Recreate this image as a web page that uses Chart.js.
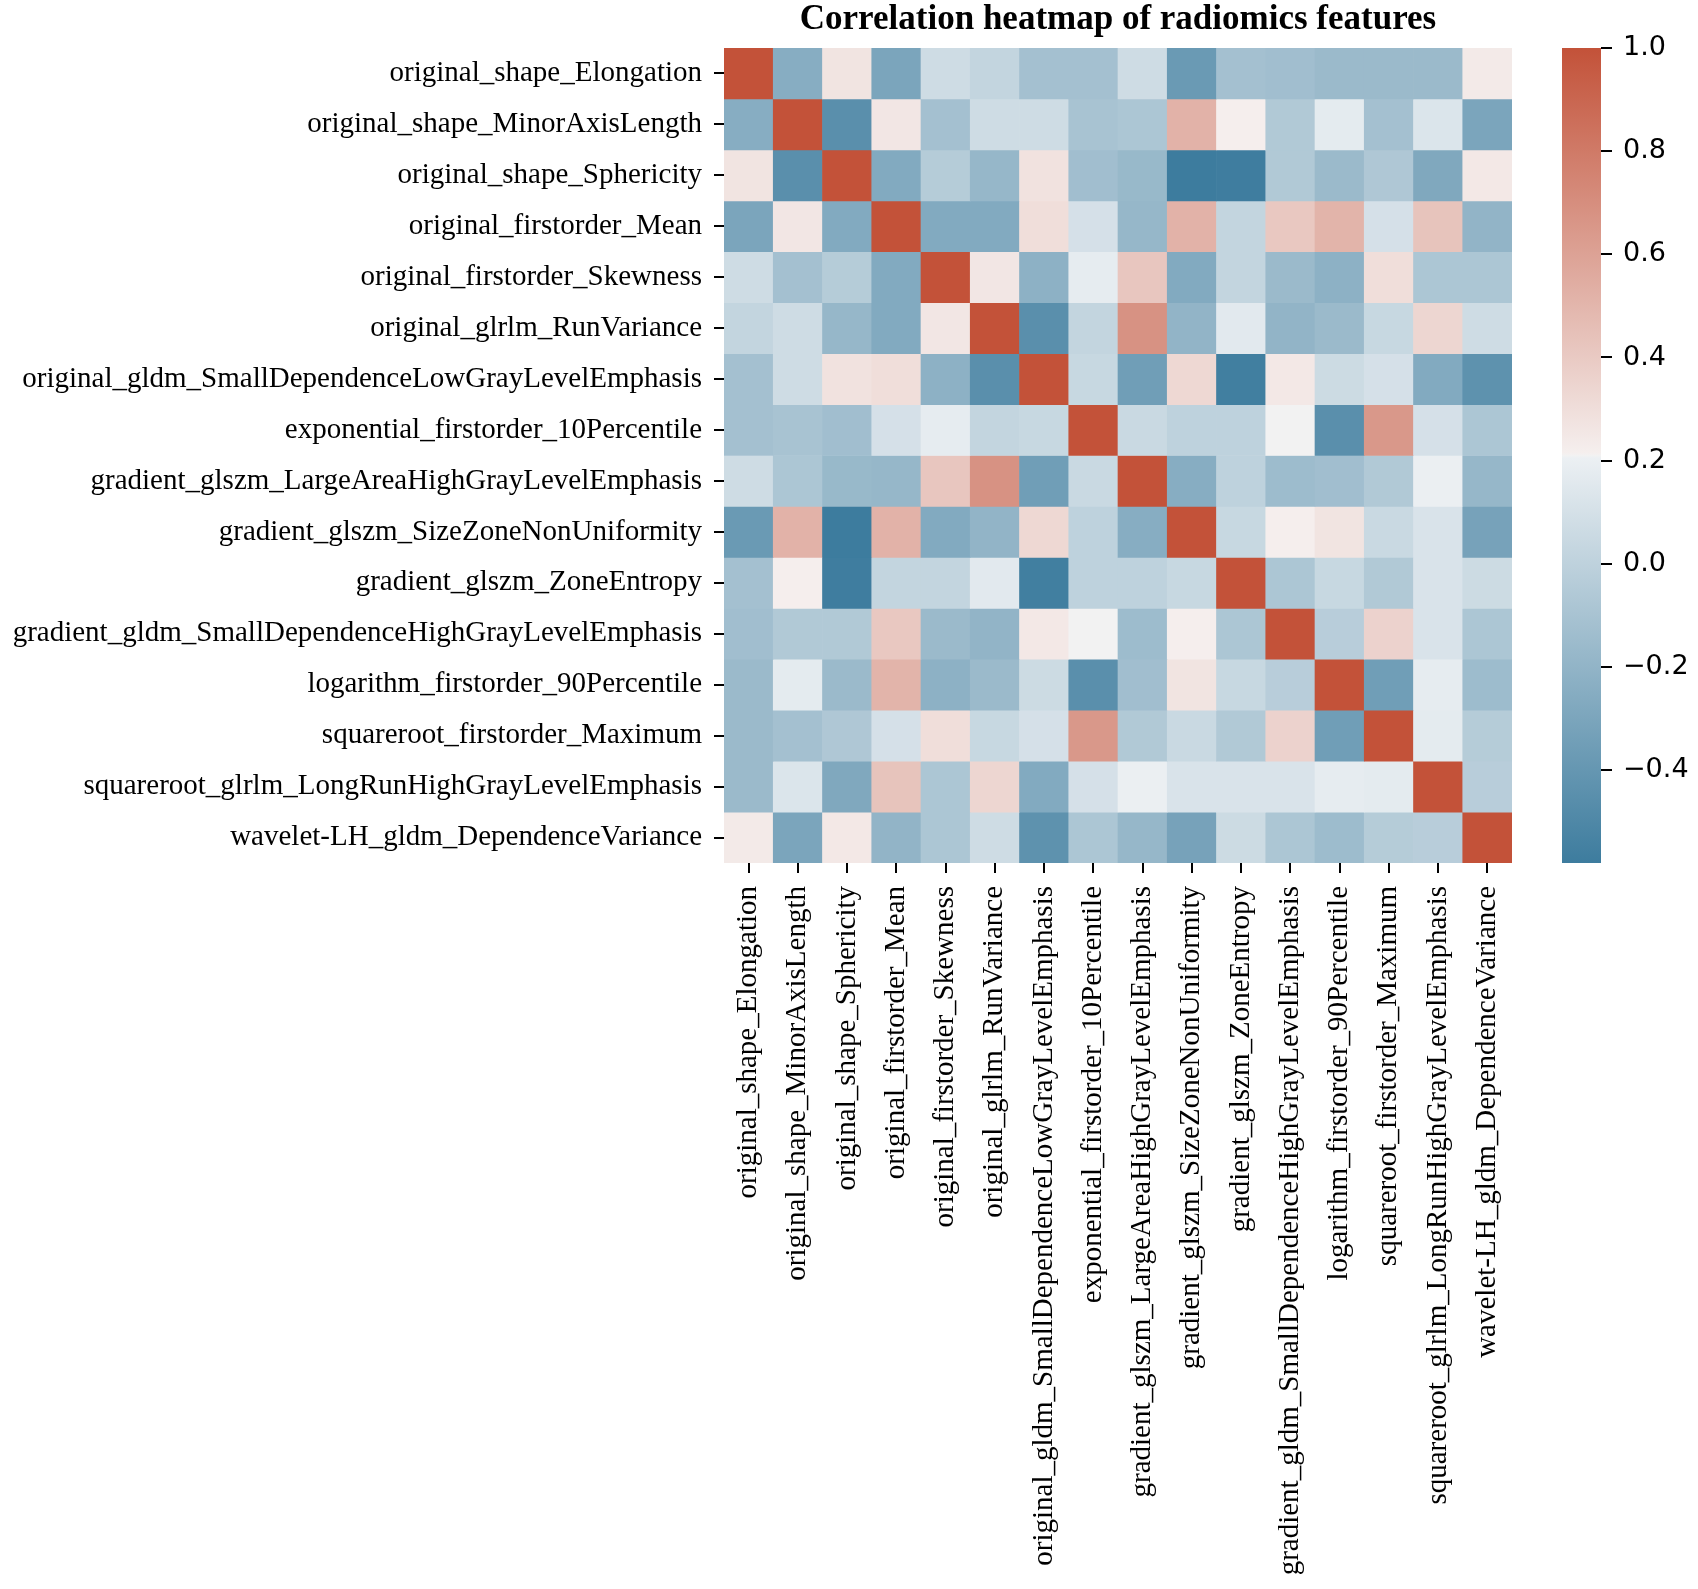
<!DOCTYPE html>
<html lang="en">
<head>
<meta charset="UTF-8">
<title>Correlation heatmap of radiomics features</title>
<script src="https://cdn.jsdelivr.net/npm/chart.js"></script>
<style>
  body { margin: 0; background: #fff; }
  #wrap { position: relative; width: 1698px; height: 1589px; }
  #wrap canvas { position: absolute; left: 0; top: 0; }
</style>
</head>
<body>
<div id="wrap">
  <canvas id="heatmap" width="1698" height="1589"></canvas>
  <canvas id="colorbar" width="1698" height="1589"></canvas>
</div>

<script>
// Feature names (same order on both axes)
const features = [
    'original_shape_Elongation',
    'original_shape_MinorAxisLength',
    'original_shape_Sphericity',
    'original_firstorder_Mean',
    'original_firstorder_Skewness',
    'original_glrlm_RunVariance',
    'original_gldm_SmallDependenceLowGrayLevelEmphasis',
    'exponential_firstorder_10Percentile',
    'gradient_glszm_LargeAreaHighGrayLevelEmphasis',
    'gradient_glszm_SizeZoneNonUniformity',
    'gradient_glszm_ZoneEntropy',
    'gradient_gldm_SmallDependenceHighGrayLevelEmphasis',
    'logarithm_firstorder_90Percentile',
    'squareroot_firstorder_Maximum',
    'squareroot_glrlm_LongRunHighGrayLevelEmphasis',
    'wavelet-LH_gldm_DependenceVariance'
];

// Correlation values, one row per feature
const corr = [
    [ 1.00, -0.25,  0.27, -0.30,  0.07,  0.02, -0.12, -0.12,  0.07, -0.38, -0.12, -0.13, -0.16, -0.16, -0.16,  0.24],
    [-0.25,  1.00, -0.45,  0.26, -0.12,  0.07,  0.07, -0.10, -0.08,  0.52,  0.22, -0.06,  0.17, -0.12,  0.13, -0.30],
    [ 0.27, -0.45,  1.00, -0.27, -0.04, -0.18,  0.28, -0.13, -0.17, -0.58, -0.57, -0.06, -0.16, -0.07, -0.28,  0.25],
    [-0.30,  0.26, -0.27,  1.00, -0.27, -0.27,  0.30,  0.10, -0.18,  0.52,  0.02,  0.41,  0.51,  0.10,  0.43, -0.20],
    [ 0.07, -0.12, -0.04, -0.27,  1.00,  0.26, -0.22,  0.18,  0.42, -0.27,  0.02, -0.16, -0.22,  0.30, -0.08, -0.08],
    [ 0.02,  0.07, -0.18, -0.27,  0.26,  1.00, -0.45,  0.02,  0.68, -0.20,  0.16, -0.20, -0.16,  0.04,  0.34,  0.07],
    [-0.12,  0.07,  0.28,  0.30, -0.22, -0.45,  1.00,  0.04, -0.35,  0.33, -0.56,  0.25,  0.06,  0.10, -0.27, -0.43],
    [-0.12, -0.10, -0.13,  0.10,  0.18,  0.02,  0.04,  1.00,  0.05,  0.00,  0.00,  0.21, -0.45,  0.65,  0.10, -0.08],
    [ 0.07, -0.08, -0.17, -0.18,  0.42,  0.68, -0.35,  0.05,  1.00, -0.25,  0.00, -0.15, -0.13, -0.06,  0.20, -0.18],
    [-0.38,  0.52, -0.58,  0.52, -0.27, -0.20,  0.33,  0.00, -0.25,  1.00,  0.04,  0.22,  0.27,  0.05,  0.12, -0.32],
    [-0.12,  0.22, -0.57,  0.02,  0.02,  0.16, -0.56,  0.00,  0.00,  0.04,  1.00, -0.08,  0.04, -0.06,  0.12,  0.06],
    [-0.13, -0.06, -0.06,  0.41, -0.16, -0.20,  0.25,  0.21, -0.15,  0.22, -0.08,  1.00, -0.03,  0.36,  0.12, -0.08],
    [-0.16,  0.17, -0.16,  0.51, -0.22, -0.16,  0.06, -0.45, -0.13,  0.27,  0.04, -0.03,  1.00, -0.35,  0.18, -0.15],
    [-0.16, -0.12, -0.07,  0.10,  0.30,  0.04,  0.10,  0.65, -0.06,  0.05, -0.06,  0.36, -0.35,  1.00,  0.17, -0.04],
    [-0.16,  0.13, -0.28,  0.43, -0.08,  0.34, -0.27,  0.10,  0.20,  0.12,  0.12,  0.12,  0.18,  0.17,  1.00, -0.03],
    [ 0.24, -0.30,  0.25, -0.20, -0.08,  0.07, -0.43, -0.08, -0.18, -0.32,  0.06, -0.08, -0.15, -0.04, -0.03,  1.00]
];

// Colorbar tick labels
const colorbarTicks = [-0.4, -0.2, 0.0, 0.2, 0.4, 0.6, 0.8, 1.0];

// colour range follows the data, like seaborn does
const vmin = Math.min(...corr.flat());
const vmax = Math.max(...corr.flat());

// blue -> light grey -> red diverging palette
const cmapStops = [
    [0.000, [61, 124, 158]],
    [0.497, [236, 240, 243]],
    [0.500, [242, 242, 242]],
    [0.503, [245, 239, 238]],
    [1.000, [195, 82, 57]]
];

function cmap(t) {
    t = Math.min(1, Math.max(0, t));
    for (let i = 1; i < cmapStops.length; i++) {
        const [t0, c0] = cmapStops[i - 1];
        const [t1, c1] = cmapStops[i];
        if (t <= t1) {
            const f = (t - t0) / (t1 - t0);
            return 'rgb(' + c0.map((v, k) => Math.round(v + (c1[k] - v) * f)).join(',') + ')';
        }
    }
    return 'rgb(' + cmapStops[cmapStops.length - 1][1].join(',') + ')';
}

function colorFor(v) {
    return cmap((v - vmin) / (vmax - vmin));
}

const serif = "'Liberation Serif', 'Times New Roman', serif";
Chart.defaults.color = '#000';

// Heatmap: one dataset per row, floating bars spanning that row
const rowSets = corr.map((row, r) => ({
    label: features[r],
    data: row.map(() => [r, r + 1]),
    backgroundColor: row.map(colorFor),
    borderWidth: 0,
    grouped: false,
    barPercentage: 1,
    categoryPercentage: 1
}));

const tickGrid = {
    display: true,
    drawOnChartArea: false,
    drawTicks: true,
    tickLength: 10,
    color: '#000',
    lineWidth: 2
};

new Chart(document.getElementById('heatmap'), {
    type: 'bar',
    data: { labels: features, datasets: rowSets },
    options: {
        responsive: false,
        animation: false,
        layout: { padding: { left: 0, right: 186, top: 0, bottom: 0 } },
        plugins: {
            legend: { display: false },
            tooltip: { enabled: false },
            title: {
                display: true,
                text: 'Correlation heatmap of radiomics features',
                fullSize: false,
                color: '#000',
                font: { family: serif, size: 35, weight: 'bold', lineHeight: 1 },
                padding: { top: 2, bottom: 11 }
            }
        },
        scales: {
            x: {
                offset: true,
                grid: Object.assign({}, tickGrid, { offset: false }),
                border: { display: false },
                ticks: {
                    autoSkip: false,
                    maxRotation: 90,
                    minRotation: 90,
                    padding: 13,
                    font: { family: serif, size: 29 }
                },
                afterFit(scale) {
                    scale.height = 726;
                    scale.paddingLeft = 0;
                    scale.paddingRight = 0;
                }
            },
            y: {
                min: 0,
                max: features.length,
                reverse: true,
                grid: tickGrid,
                border: { display: false },
                afterBuildTicks(scale) {
                    scale.ticks = features.map((_, i) => ({ value: i + 0.5 }));
                },
                ticks: {
                    padding: 12,
                    font: { family: serif, size: 29 },
                    callback: (v, i) => features[i]
                },
                afterFit(scale) {
                    scale.width = 724;
                    scale.paddingTop = 0;
                    scale.paddingBottom = 0;
                }
            }
        }
    }
});

// Colorbar: a single floating bar from vmin to vmax with a gradient fill
function colorbarFill(ctx) {
    const chart = ctx.chart;
    if (!chart.chartArea) return null;
    const y = chart.scales.y;
    const g = chart.ctx.createLinearGradient(0, y.getPixelForValue(vmin), 0, y.getPixelForValue(vmax));
    cmapStops.forEach(([t, c]) => g.addColorStop(t, 'rgb(' + c.join(',') + ')'));
    return g;
}

new Chart(document.getElementById('colorbar'), {
    type: 'bar',
    data: {
        labels: [''],
        datasets: [{
            data: [[vmin, vmax]],
            backgroundColor: colorbarFill,
            borderWidth: 0,
            barPercentage: 1,
            categoryPercentage: 1
        }]
    },
    options: {
        responsive: false,
        animation: false,
        events: [],
        layout: { padding: { left: 1562, right: 0, top: 48, bottom: 726 } },
        plugins: { legend: { display: false }, tooltip: { enabled: false } },
        scales: {
            x: { display: false },
            y: {
                position: 'right',
                min: vmin,
                max: vmax,
                afterBuildTicks(scale) {
                    scale.ticks = colorbarTicks.map(v => ({ value: v }));
                },
                ticks: {
                    padding: 11,
                    font: { family: "'DejaVu Sans', sans-serif", size: 27 },
                    callback: v => v.toFixed(1).replace('-', '\u2212')
                },
                grid: Object.assign({}, tickGrid, { tickLength: 11 }),
                border: { display: false },
                afterFit(scale) {
                    scale.width = 97;
                }
            }
        }
    }
});
</script>
</body>
</html>
